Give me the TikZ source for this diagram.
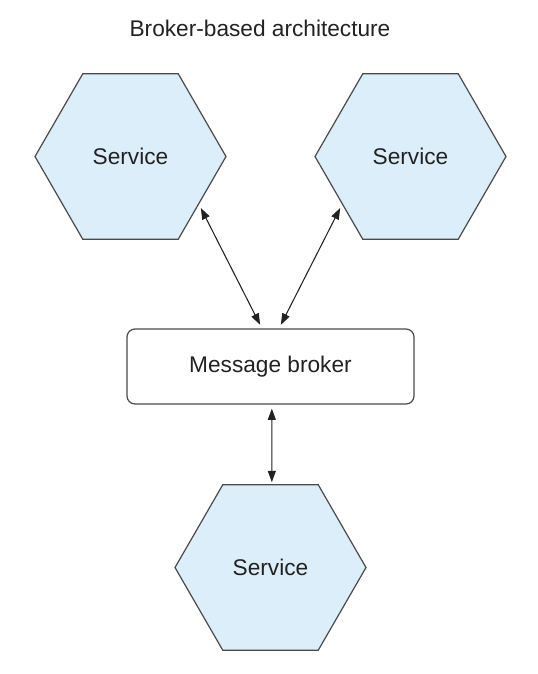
\documentclass[tikz,border=0pt]{standalone}
\usepackage{fontspec}
\setmainfont{Liberation Sans}
\usepackage{xcolor}
\usetikzlibrary{shapes.geometric,positioning,calc,arrows.meta}
\definecolor{svcfill}{HTML}{DCEEF9}
\definecolor{edgegray}{HTML}{4A4A4A}
\definecolor{linegray}{HTML}{222222}
\definecolor{textdark}{HTML}{222222}

\tikzset{
    service/.style={regular polygon, regular polygon sides=6, minimum size=143.25pt, inner sep=0pt, draw=edgegray, fill=svcfill, line width=0.9pt},
    brokerbox/.style={rectangle, rounded corners=6pt, minimum width=215.25pt, minimum height=56.25pt, draw=edgegray, line width=0.9pt},
    link/.style={{Triangle[length=8.5pt,width=6pt]}-{Triangle[length=8.5pt,width=6pt]}, draw=linegray, line width=0.8pt}
}

\begin{document}
\begin{tikzpicture}[x=0.75pt, y=-0.75pt, font=\fontsize{17}{20}\selectfont, text=textdark]
    \useasboundingbox (0,0) rectangle (538,674);
    \node[anchor=base] (title) at (260,37) {Broker-based architecture};
    \node[service] (svcleft) at (130.5,156.5) {Service};
    \node[service] (svcright) at (410.5,156.5) {Service};
    \node[brokerbox] (broker) at (270.5,366.5) {Message broker};
    \node[service] (svcbottom) at (270.5,567.5) {Service};
    % links to the broker
    \draw[link, shorten <=3pt, shorten >=3pt] (svcleft.-35) -- ([xshift=-6.4pt]broker.north);
    \draw[link, shorten <=3pt, shorten >=3pt] (svcright.-145) -- ([xshift=6.4pt]broker.north);
    \draw[link, shorten <=3pt, shorten >=1.5pt] ([xshift=1pt]broker.south) -- ([xshift=1pt]svcbottom.north);
\end{tikzpicture}
\end{document}
